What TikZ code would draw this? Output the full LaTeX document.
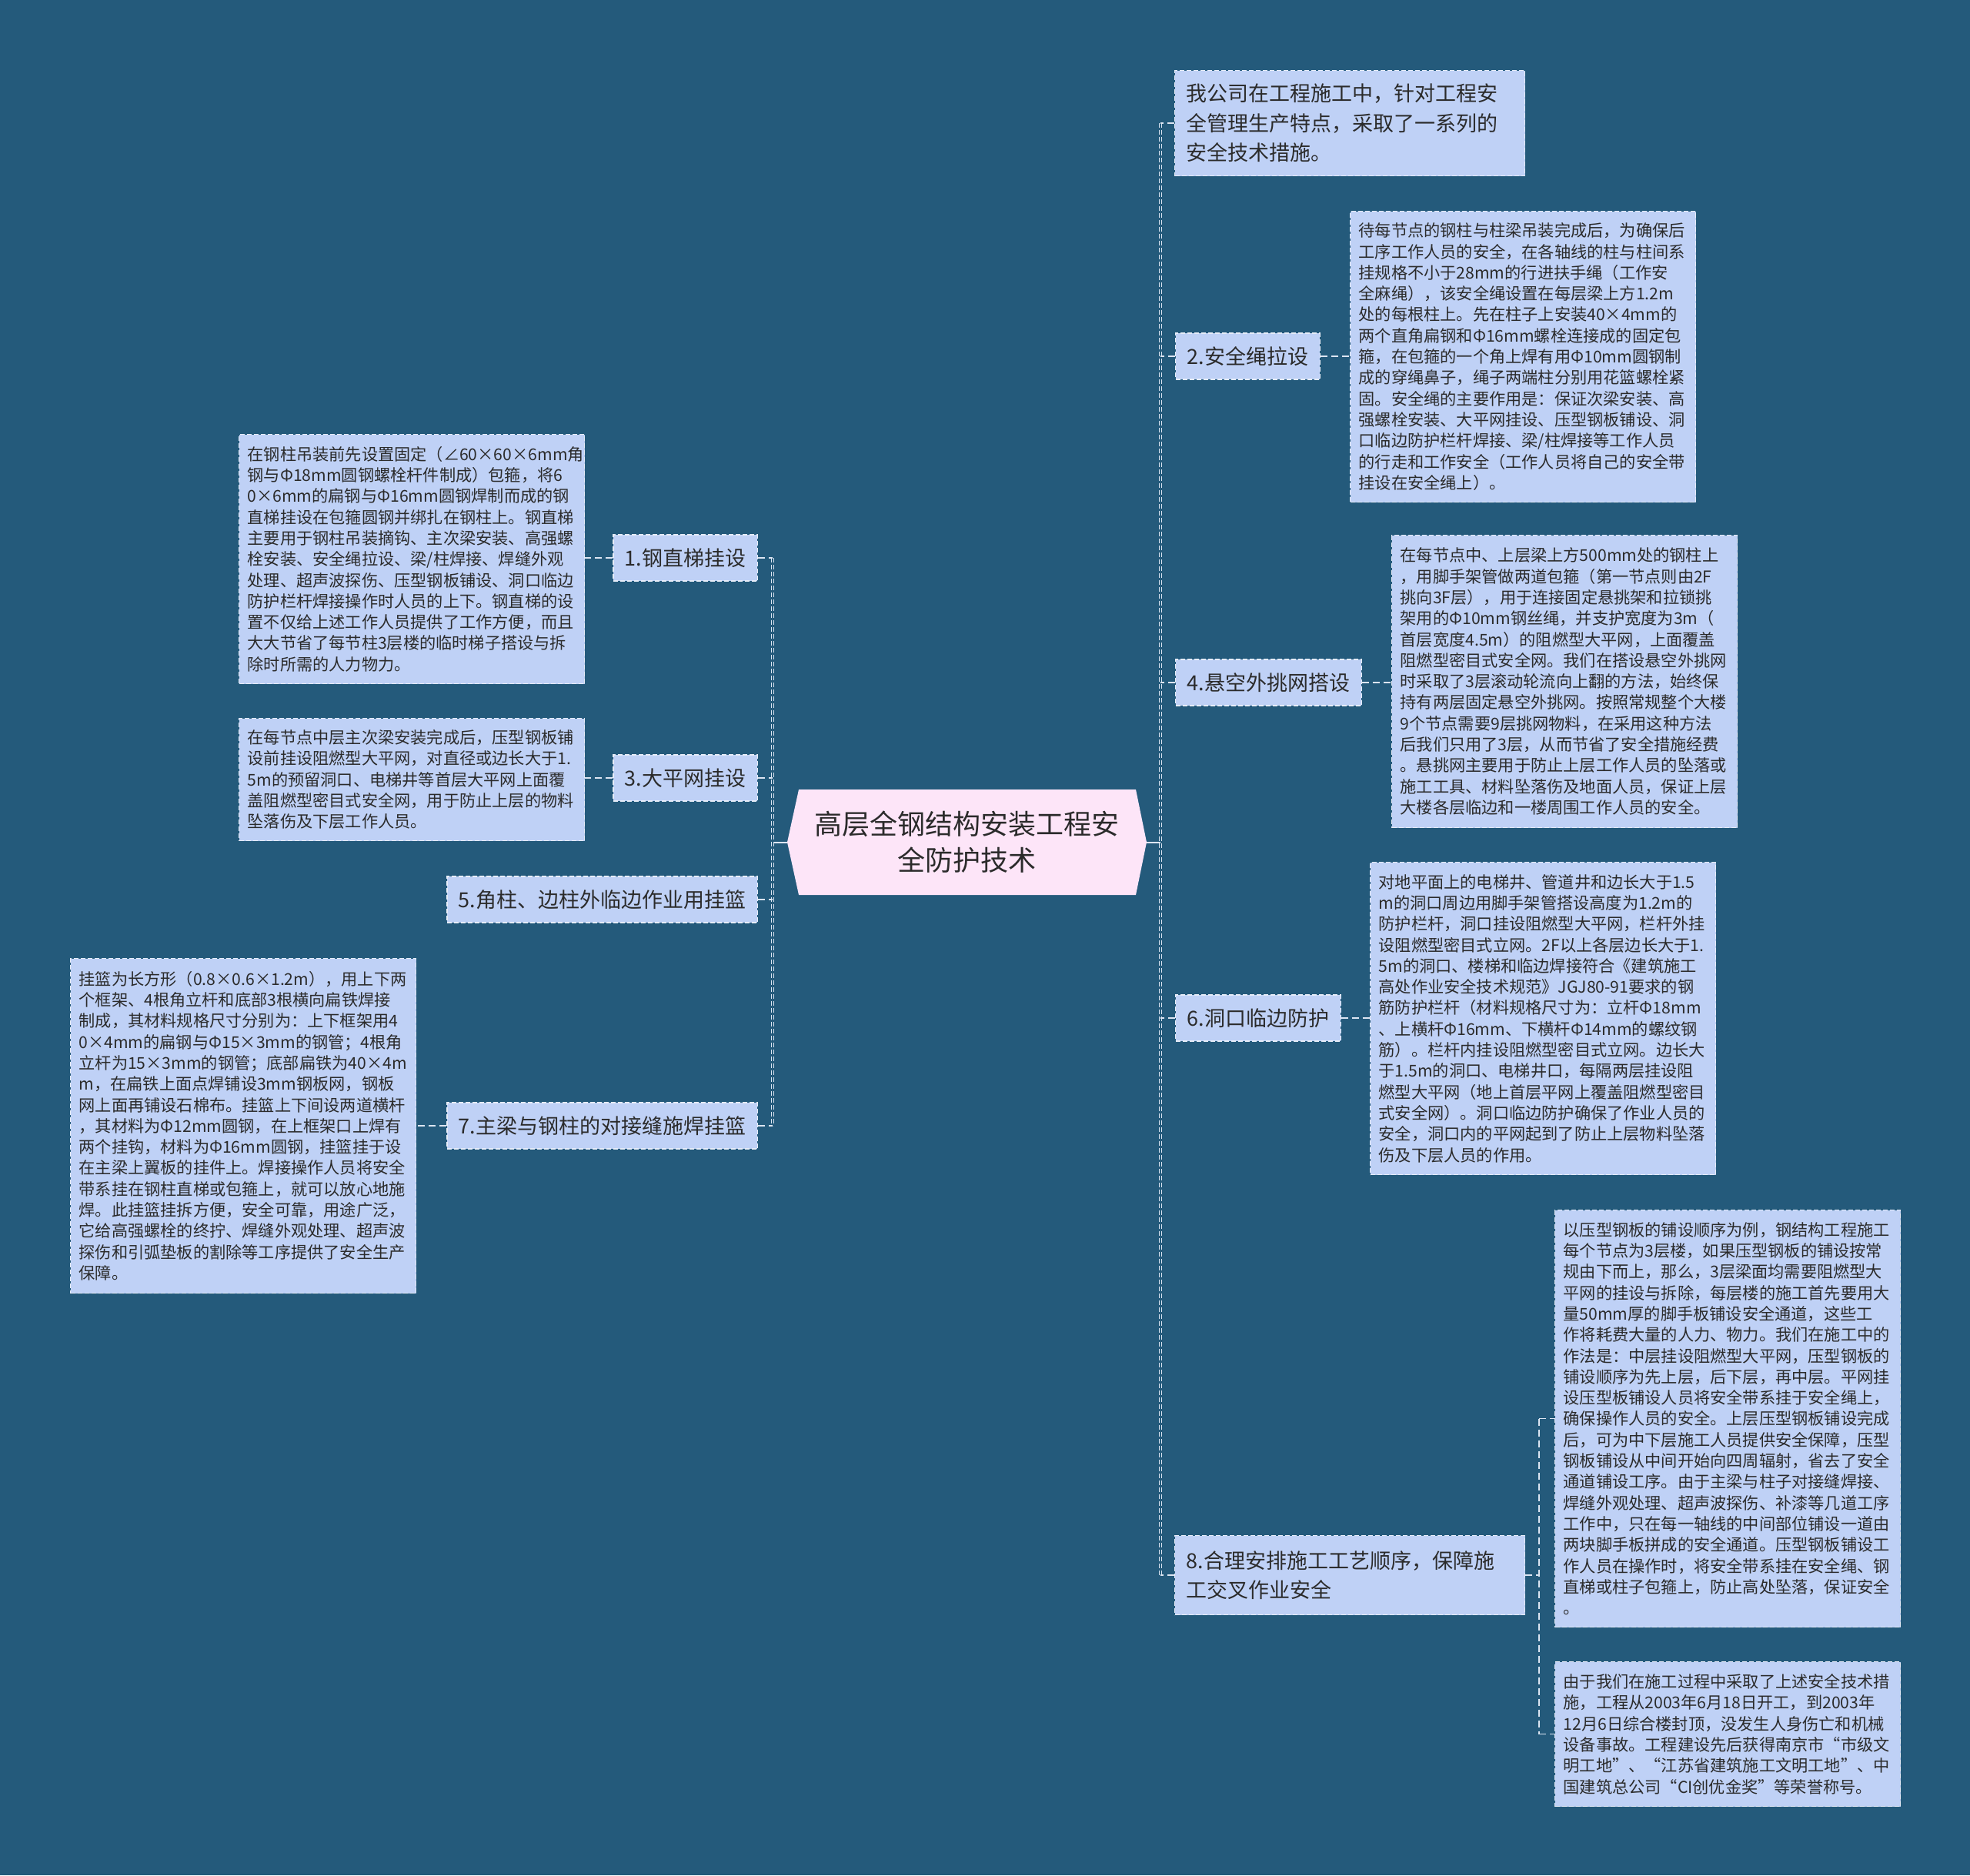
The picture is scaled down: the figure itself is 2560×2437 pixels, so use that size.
\documentclass[tikz,border=0pt]{standalone}
\usepackage{fontspec}
\setmainfont{Noto Sans CJK SC}
\usetikzlibrary{calc}
\definecolor{bg}{HTML}{245A7B}
\definecolor{boxfill}{HTML}{BFD1F6}
\definecolor{boxline}{HTML}{E6ECF7}
\definecolor{txt}{HTML}{2B2B2B}
\definecolor{hexfill}{HTML}{FDE5F8}
\definecolor{lnk}{HTML}{DCE5F2}
\begin{document}
\begin{tikzpicture}[x=1pt,y=-1pt,
 detail/.style={draw=boxline, line width=1.2pt, dash pattern=on 6pt off 3pt, fill=boxfill, text=txt, font=\fontsize{21.2}{27.3}\selectfont, align=left, inner xsep=11pt, inner ysep=0pt, text width=427pt, anchor=north west},
 topic/.style={draw=boxline, line width=1.2pt, dash pattern=on 6pt off 3pt, fill=boxfill, text=txt, font=\fontsize{27}{38.5}\selectfont, align=left, inner xsep=15pt, inner ysep=0pt, minimum height=60pt},
 branch/.style={draw=lnk, line width=1.4pt, dash pattern=on 9pt off 5pt},
 spine/.style={draw=lnk, line width=1.6pt, double=bg, double distance=1.6pt, dash pattern=on 6pt off 3pt},
 trunk/.style={draw=lnk, line width=2pt}
]
\fill[bg] (0,0) rectangle (2560,2437);
\useasboundingbox (0,0) rectangle (2560,2437);

% centre
\node[fill=bg, minimum width=467pt, minimum height=137pt, inner sep=0pt, align=center, text=txt,
  font=\fontsize{36}{47}\selectfont,
  path picture={\fill[hexfill] (path picture bounding box.west)
    -- ($(path picture bounding box.north west)+(15pt,0pt)$)
    -- ($(path picture bounding box.north east)+(-14pt,0pt)$)
    -- (path picture bounding box.east)
    -- ($(path picture bounding box.south east)+(-14pt,0pt)$)
    -- ($(path picture bounding box.south west)+(15pt,0pt)$) -- cycle;}]
  (ctr) at (1256.5,1094.5) {高层全钢结构安装工程安\\全防护技术};

% left topics
\node[topic, anchor=east] (l1) at (985,725) {1.钢直梯挂设};
\node[topic, anchor=east] (l3) at (985,1011) {3.大平网挂设};
\node[topic, anchor=east] (l5) at (985,1169) {5.角柱、边柱外临边作业用挂篮};
\node[topic, anchor=east] (l7) at (985,1463) {7.主梁与钢柱的对接缝施焊挂篮};

% left details
\node[detail, minimum height=324pt] (d1) at (310,564) {在钢柱吊装前先设置固定（∠60×60×6mm角\\钢与Φ18mm圆钢螺栓杆件制成）包箍，将6\\0×6mm的扁钢与Φ16mm圆钢焊制而成的钢\\直梯挂设在包箍圆钢并绑扎在钢柱上。钢直梯\\主要用于钢柱吊装摘钩、主次梁安装、高强螺\\栓安装、安全绳拉设、梁/柱焊接、焊缝外观\\处理、超声波探伤、压型钢板铺设、洞口临边\\防护栏杆焊接操作时人员的上下。钢直梯的设\\置不仅给上述工作人员提供了工作方便，而且\\大大节省了每节柱3层楼的临时梯子搭设与拆\\除时所需的人力物力。};
\node[detail, minimum height=159pt] (d3) at (310,933) {在每节点中层主次梁安装完成后，压型钢板铺\\设前挂设阻燃型大平网，对直径或边长大于1.\\5m的预留洞口、电梯井等首层大平网上面覆\\盖阻燃型密目式安全网，用于防止上层的物料\\坠落伤及下层工作人员。};
\node[detail, minimum height=435pt] (d7) at (91,1245) {挂篮为长方形（0.8×0.6×1.2m），用上下两\\个框架、4根角立杆和底部3根横向扁铁焊接\\制成，其材料规格尺寸分别为：上下框架用4\\0×4mm的扁钢与Φ15×3mm的钢管；4根角\\立杆为15×3mm的钢管；底部扁铁为40×4m\\m，在扁铁上面点焊铺设3mm钢板网，钢板\\网上面再铺设石棉布。挂篮上下间设两道横杆\\，其材料为Φ12mm圆钢，在上框架口上焊有\\两个挂钩，材料为Φ16mm圆钢，挂篮挂于设\\在主梁上翼板的挂件上。焊接操作人员将安全\\带系挂在钢柱直梯或包箍上，就可以放心地施\\焊。此挂篮挂拆方便，安全可靠，用途广泛，\\它给高强螺栓的终拧、焊缝外观处理、超声波\\探伤和引弧垫板的割除等工序提供了安全生产\\保障。};

% right topics
\node[topic, anchor=north west, text width=425pt, minimum height=137pt] (t0) at (1526,91) {我公司在工程施工中，针对工程安\\全管理生产特点，采取了一系列的\\安全技术措施。};
\node[topic, anchor=west] (r2) at (1527,463) {2.安全绳拉设};
\node[topic, anchor=west] (r4) at (1527,887) {4.悬空外挑网搭设};
\node[topic, anchor=west] (r6) at (1527,1323) {6.洞口临边防护};
\node[topic, anchor=north west, text width=425pt, minimum height=103pt] (r8) at (1526,1995) {8.合理安排施工工艺顺序，保障施\\工交叉作业安全};

% right details
\node[detail, minimum height=378pt] (d2) at (1754,274) {待每节点的钢柱与柱梁吊装完成后，为确保后\\工序工作人员的安全，在各轴线的柱与柱间系\\挂规格不小于28mm的行进扶手绳（工作安\\全麻绳），该安全绳设置在每层梁上方1.2m\\处的每根柱上。先在柱子上安装40×4mm的\\两个直角扁钢和Φ16mm螺栓连接成的固定包\\箍，在包箍的一个角上焊有用Φ10mm圆钢制\\成的穿绳鼻子，绳子两端柱分别用花篮螺栓紧\\固。安全绳的主要作用是：保证次梁安装、高\\强螺栓安装、大平网挂设、压型钢板铺设、洞\\口临边防护栏杆焊接、梁/柱焊接等工作人员\\的行走和工作安全（工作人员将自己的安全带\\挂设在安全绳上）。};
\node[detail, minimum height=380pt] (d4) at (1808,695) {在每节点中、上层梁上方500mm处的钢柱上\\，用脚手架管做两道包箍（第一节点则由2F\\挑向3F层），用于连接固定悬挑架和拉锁挑\\架用的Φ10mm钢丝绳，并支护宽度为3m（\\首层宽度4.5m）的阻燃型大平网，上面覆盖\\阻燃型密目式安全网。我们在搭设悬空外挑网\\时采取了3层滚动轮流向上翻的方法，始终保\\持有两层固定悬空外挑网。按照常规整个大楼\\9个节点需要9层挑网物料，在采用这种方法\\后我们只用了3层，从而节省了安全措施经费\\。悬挑网主要用于防止上层工作人员的坠落或\\施工工具、材料坠落伤及地面人员，保证上层\\大楼各层临边和一楼周围工作人员的安全。};
\node[detail, minimum height=406pt] (d6) at (1780,1120) {对地平面上的电梯井、管道井和边长大于1.5\\m的洞口周边用脚手架管搭设高度为1.2m的\\防护栏杆，洞口挂设阻燃型大平网，栏杆外挂\\设阻燃型密目式立网。2F以上各层边长大于1.\\5m的洞口、楼梯和临边焊接符合《建筑施工\\高处作业安全技术规范》JGJ80-91要求的钢\\筋防护栏杆（材料规格尺寸为：立杆Φ18mm\\、上横杆Φ16mm、下横杆Φ14mm的螺纹钢\\筋）。栏杆内挂设阻燃型密目式立网。边长大\\于1.5m的洞口、电梯井口，每隔两层挂设阻\\燃型大平网（地上首层平网上覆盖阻燃型密目\\式安全网）。洞口临边防护确保了作业人员的\\安全，洞口内的平网起到了防止上层物料坠落\\伤及下层人员的作用。};
\node[detail, minimum height=542pt] (d8a) at (2020,1572) {以压型钢板的铺设顺序为例，钢结构工程施工\\每个节点为3层楼，如果压型钢板的铺设按常\\规由下而上，那么，3层梁面均需要阻燃型大\\平网的挂设与拆除，每层楼的施工首先要用大\\量50mm厚的脚手板铺设安全通道，这些工\\作将耗费大量的人力、物力。我们在施工中的\\作法是：中层挂设阻燃型大平网，压型钢板的\\铺设顺序为先上层，后下层，再中层。平网挂\\设压型板铺设人员将安全带系挂于安全绳上，\\确保操作人员的安全。上层压型钢板铺设完成\\后，可为中下层施工人员提供安全保障，压型\\钢板铺设从中间开始向四周辐射，省去了安全\\通道铺设工序。由于主梁与柱子对接缝焊接、\\焊缝外观处理、超声波探伤、补漆等几道工序\\工作中，只在每一轴线的中间部位铺设一道由\\两块脚手板拼成的安全通道。压型钢板铺设工\\作人员在操作时，将安全带系挂在安全绳、钢\\直梯或柱子包箍上，防止高处坠落，保证安全\\。};
\node[detail, minimum height=188pt] (d8b) at (2020,2159) {由于我们在施工过程中采取了上述安全技术措\\施，工程从2003年6月18日开工，到2003年\\12月6日综合楼封顶，没发生人身伤亡和机械\\设备事故。工程建设先后获得南京市“市级文\\明工地”、“江苏省建筑施工文明工地”、中\\国建筑总公司“CI创优金奖”等荣誉称号。};

% connectors
\coordinate (spL) at (1004,1094.5);
\coordinate (spR) at (1508,1094.5);
\coordinate (sp8) at (2000,2047);
\draw[trunk] (ctr.west) -- (spL);
\draw[trunk] (ctr.east) -- (spR);
\draw[spine] (l1.east -| spL) -- (l7.east -| spL);
\draw[spine] (t0.west -| spR) -- (r8.west -| spR);
\foreach \n in {l1,l3,l5,l7} {\draw[branch] (\n.east) -- (\n.east -| spL);}
\foreach \n in {t0,r2,r4,r6,r8} {\draw[branch] (\n.west) -- (\n.west -| spR);}
\draw[branch] (l1.west) -- (l1.west -| d1.east);
\draw[branch] (l3.west) -- (l3.west -| d3.east);
\draw[branch] (l7.west) -- (l7.west -| d7.east);
\draw[branch] (r2.east) -- (r2.east -| d2.west);
\draw[branch] (r4.east) -- (r4.east -| d4.west);
\draw[branch] (r6.east) -- (r6.east -| d6.west);
\draw[branch] (r8.east) -- (r8.east -| sp8);
\draw[branch] (d8a.west -| sp8) -- (d8b.west -| sp8);
\draw[branch] (d8a.west -| sp8) -- (d8a.west);
\draw[branch] (d8b.west -| sp8) -- (d8b.west);
\end{tikzpicture}
\end{document}
